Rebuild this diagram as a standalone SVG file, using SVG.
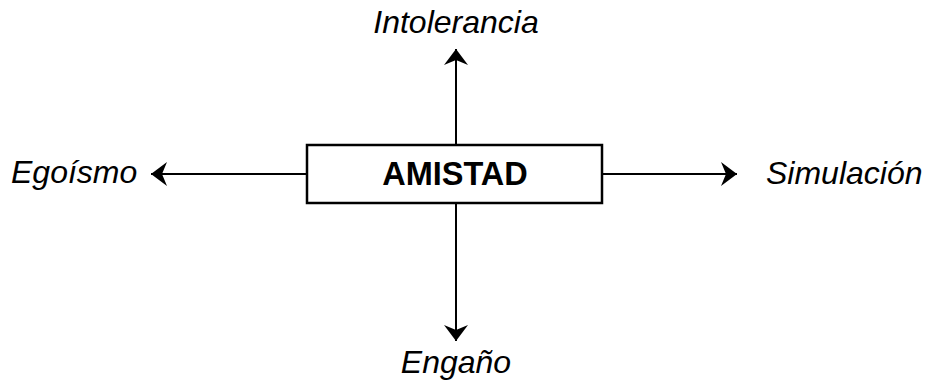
<svg xmlns="http://www.w3.org/2000/svg" width="927" height="383" viewBox="0 0 927 383">
<style>
.lbl{font-family:"Liberation Sans",Arial,sans-serif;font-size:32px;font-style:italic;fill:#000}
.main{font-family:"Liberation Sans",Arial,sans-serif;font-size:32.5px;font-weight:bold;fill:#000}
.ln{stroke:#000;stroke-width:2;fill:none}
</style>
<defs>
<marker id="ah" markerUnits="userSpaceOnUse" viewBox="-17 -13 18 26" refX="0" refY="0" markerWidth="18" markerHeight="26" orient="auto">
<path d="M0,0 L-16,-12 L-11,0 L-16,12 Z" fill="#000"/>
</marker>
</defs>
<g id="connectors">
<line class="ln" x1="456" y1="145" x2="456" y2="49" marker-end="url(#ah)"/>
<line class="ln" x1="456" y1="203" x2="456" y2="341" marker-end="url(#ah)"/>
<line class="ln" x1="307" y1="174" x2="151" y2="174" marker-end="url(#ah)"/>
<line class="ln" x1="602" y1="174" x2="737" y2="174" marker-end="url(#ah)"/>
</g>
<g id="amistad">
<rect x="307" y="145" width="295" height="58" fill="#fff" stroke="#000" stroke-width="2.5"/>
<text class="main" x="455" y="185" text-anchor="middle">AMISTAD</text>
</g>
<g id="intolerancia"><text class="lbl" x="456" y="33" text-anchor="middle">Intolerancia</text></g>
<g id="engano"><text class="lbl" x="456" y="373" text-anchor="middle">Engaño</text></g>
<g id="egoismo"><text class="lbl" x="11" y="183">Egoísmo</text></g>
<g id="simulacion"><text class="lbl" x="766" y="184">Simulación</text></g>
</svg>
